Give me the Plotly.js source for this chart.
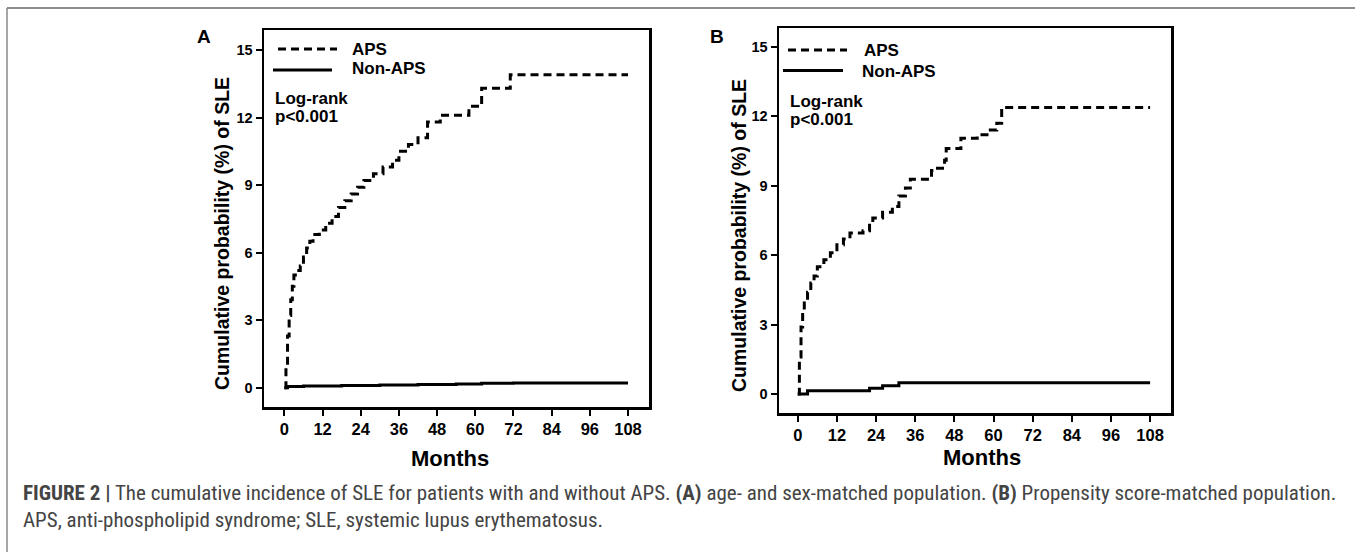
<!DOCTYPE html>
<html>
<head>
<meta charset="utf-8">
<script src="https://cdn.plot.ly/plotly-3.0.1.min.js"></script>
<style>
html,body{margin:0;padding:0;background:#fff;}
#chart{width:1355px;height:552px;}
</style>
</head>
<body>
<div id="chart"></div>
<script>
// ---- Data ----
var monthTicks = [0, 12, 24, 36, 48, 60, 72, 84, 96, 108];
var pctTicks = [0, 3, 6, 9, 12, 15];

// Panel A: age- and sex-matched population
var aApsMonths = [0, 0.5, 1, 1.5, 2, 2.5, 3, 4, 5, 6, 7, 8, 9, 11, 13, 15, 17, 19, 21, 23, 25, 28, 31, 34, 36, 39, 42, 45, 49, 58, 62, 71, 108];
var aApsPct    = [0, 1.0, 2.3, 3.2, 3.9, 4.5, 5.0, 5.2, 5.4, 5.8, 6.2, 6.5, 6.8, 7.0, 7.3, 7.6, 8.0, 8.3, 8.6, 8.9, 9.2, 9.5, 9.8, 10.1, 10.5, 10.8, 11.1, 11.8, 12.1, 12.5, 13.3, 13.9, 13.9];
var aNonMonths = [0, 1, 6, 18, 30, 42, 54, 62, 72, 108];
var aNonPct    = [0, 0.05, 0.07, 0.09, 0.12, 0.14, 0.16, 0.19, 0.21, 0.21];

// Panel B: propensity score-matched population
var bApsMonths = [0, 0.5, 1, 1.5, 2, 3, 4, 5, 6, 8, 10, 12, 14, 16, 20, 22, 23, 26, 29, 31, 33, 34.5, 41, 42, 45, 45.5, 50, 55, 58, 61, 62.5, 108];
var bApsPct    = [0, 1.6, 2.9, 3.6, 4.0, 4.4, 4.8, 5.1, 5.5, 5.8, 6.1, 6.45, 6.7, 6.95, 7.05, 7.4, 7.6, 7.85, 8.1, 8.55, 8.9, 9.28, 9.65, 9.75, 10.1, 10.6, 11.05, 11.2, 11.4, 11.7, 12.38, 12.38];
var bNonMonths = [0, 3, 22, 26, 31, 108];
var bNonPct    = [0, 0.14, 0.25, 0.36, 0.49, 0.49];

var seriesNames = ['APS', 'Non-APS'];
var panelLabels = ['A', 'B'];
var yTitle = 'Cumulative probability (%) of SLE';
var xTitle = 'Months';
var testLines = ['Log-rank', 'p&lt;0.001'];
var captionLine1 = '<b>FIGURE 2 |</b> The cumulative incidence of SLE for patients with and without APS. <b>(A)</b> age- and sex-matched population. <b>(B)</b> Propensity score-matched population.';
var captionLine2 = 'APS, anti-phospholipid syndrome; SLE, systemic lupus erythematosus.';

// ---- Page geometry (pixels) ----
var W = 1355, H = 552;
function px(x){ return x / W; }
function py(y){ return 1 - y / H; }

var dashStyle = '8px,5px';
var lineW = 3;

var traces = [
  {x: aApsMonths, y: aApsPct, name: seriesNames[0], xaxis: 'x', yaxis: 'y',
   mode: 'lines', line: {shape: 'hv', color: '#000', width: lineW, dash: dashStyle}},
  {x: aNonMonths, y: aNonPct, name: seriesNames[1], xaxis: 'x', yaxis: 'y',
   mode: 'lines', line: {shape: 'hv', color: '#000', width: lineW}},
  {x: bApsMonths, y: bApsPct, name: seriesNames[0], xaxis: 'x2', yaxis: 'y2',
   mode: 'lines', line: {shape: 'hv', color: '#000', width: lineW, dash: dashStyle}},
  {x: bNonMonths, y: bNonPct, name: seriesNames[1], xaxis: 'x2', yaxis: 'y2',
   mode: 'lines', line: {shape: 'hv', color: '#000', width: lineW}}
];

var fontFam = 'Arial, "Liberation Sans", sans-serif';
function bold(size){ return {family: fontFam, size: size, color: '#000', weight: 'bold'}; }

function xAxis(domain, range, anchor){
  return {
    domain: domain, range: range, anchor: anchor, tickvals: monthTicks, ticktext: monthTicks.map(String),
    ticks: 'outside', ticklen: 6, tickwidth: 2, tickcolor: '#000',
    showline: true, linecolor: '#000', linewidth: 2.5, mirror: true,
    showgrid: false, zeroline: false, fixedrange: true,
    tickfont: bold(16.5)
  };
}
function yAxis(domain, range, anchor){
  return {
    domain: domain, range: range, tickvals: pctTicks, ticktext: pctTicks.map(String), anchor: anchor,
    ticks: 'outside', ticklen: 6, tickwidth: 2, tickcolor: '#000',
    showline: true, linecolor: '#000', linewidth: 2.5, mirror: true,
    showgrid: false, zeroline: false, fixedrange: true,
    tickfont: bold(14.5)
  };
}

function txt(text, x, y, size, opts){
  var a = {text: text, xref: 'paper', yref: 'paper', x: px(x), y: py(y), showarrow: false,
           xanchor: 'center', yanchor: 'middle', font: bold(size)};
  return Object.assign(a, opts || {});
}
function keyLine(x0, x1, y, dashed){
  return {type: 'line', xref: 'paper', yref: 'paper', x0: px(x0), x1: px(x1), y0: py(y), y1: py(y),
          line: {color: '#000', width: 3, dash: dashed ? dashStyle : 'solid'}};
}

var capFont = {family: '"Roboto Condensed", "Liberation Sans Narrow", "Arial Narrow", Arial, sans-serif', size: 21, color: '#444'};
var L = {xanchor: 'left'};

var layout = {
  width: W, height: H,
  margin: {l: 0, r: 0, t: 0, b: 0},
  paper_bgcolor: '#fff', plot_bgcolor: '#fff',
  showlegend: false,
  xaxis: xAxis([px(264), px(649)], [-6.4, 114.6], 'y'),
  yaxis: yAxis([py(407), py(30)], [-0.86, 15.89], 'x'),
  xaxis2: xAxis([px(779), px(1171)], [-5.75, 114.4], 'y2'),
  yaxis2: yAxis([py(413), py(28)], [-0.82, 15.81], 'x2'),
  annotations: [
    txt(panelLabels[0], 204, 37, 19),
    txt(panelLabels[1], 717, 37, 19),
    txt(yTitle, 222, 234, 19.5, {textangle: -90}),
    txt(yTitle, 739, 236, 19.5, {textangle: -90}),
    txt(xTitle, 450, 458, 22),
    txt(xTitle, 982, 457.5, 22),
    txt(seriesNames[0], 350, 49.5, 17, L),
    txt(seriesNames[1], 350, 68.5, 17, L),
    txt(seriesNames[0], 862, 51, 17, L),
    txt(seriesNames[1], 860, 71, 17, L),
    txt(testLines[0], 273, 98, 17, L),
    txt(testLines[1], 273, 116.5, 17, L),
    txt(testLines[0], 788, 102, 17, L),
    txt(testLines[1], 788, 120, 17, L),
    {text: captionLine1, xref: 'paper', yref: 'paper', x: px(21), y: py(493), xanchor: 'left', yanchor: 'middle',
     showarrow: false, font: capFont},
    {text: captionLine2, xref: 'paper', yref: 'paper', x: px(21), y: py(520), xanchor: 'left', yanchor: 'middle',
     showarrow: false, font: capFont}
  ],
  shapes: [
    keyLine(278, 337, 49, true),
    keyLine(273, 332, 70, false),
    keyLine(788, 847, 50, true),
    keyLine(783, 843, 70.5, false),
    {type: 'line', xref: 'paper', yref: 'paper', x0: px(7), x1: 1, y0: py(8), y1: py(8), line: {color: '#666', width: 1.5}},
    {type: 'line', xref: 'paper', yref: 'paper', x0: px(7), x1: px(7), y0: py(8), y1: 0, line: {color: '#888', width: 1.5}}
  ]
};

Plotly.newPlot('chart', traces, layout, {staticPlot: true, displayModeBar: false});
</script>
</body>
</html>
